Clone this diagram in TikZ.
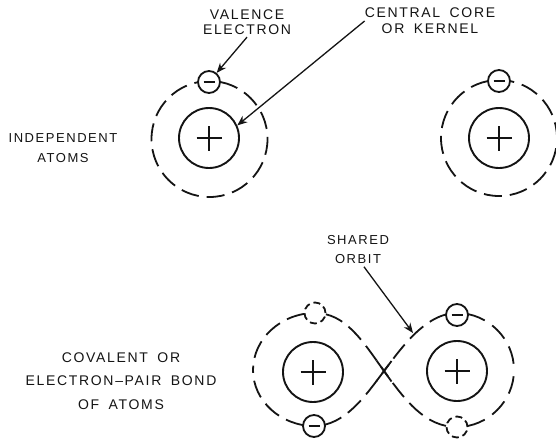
\documentclass[tikz,border=0pt]{standalone}
\usepackage{fontspec}
\newfontfamily\labfont[LetterSpace=12,WordSpace=1.7]{Liberation Sans}
\usetikzlibrary{arrows.meta}
\definecolor{ink}{gray}{0.08}
\tikzset{
  lab/.style 2 args={align=center,inner sep=0pt,text=ink,font=\labfont\fontsize{#1}{#2}\selectfont},
  orbit/.style={draw=ink,line width=1.8pt,dash pattern=on 18pt off 8pt,dash phase=15pt},
  orbitwide/.style={draw=ink,line width=1.8pt,dash pattern=on 18pt off 9pt,dash phase=16pt},
  crossing/.style={draw=ink,line width=1.8pt},
  nucleus/.style={circle,draw=ink,line width=1.9pt,minimum size=60pt,inner sep=0pt,
    path picture={\draw[ink,line width=1.7pt]
      ([xshift=-12.5pt]path picture bounding box.center)--([xshift=12.5pt]path picture bounding box.center)
      ([yshift=-12.5pt]path picture bounding box.center)--([yshift=12.5pt]path picture bounding box.center);}},
  electron/.style={circle,draw=ink,fill=white,line width=1.8pt,minimum size=22pt,inner sep=0pt,
    path picture={\draw[ink,line width=1.7pt]
      ([xshift=-5.5pt]path picture bounding box.center)--([xshift=5.5pt]path picture bounding box.center);}},
  vacant/.style={circle,draw=ink,fill=white,line width=1.8pt,dash pattern=on 7pt off 4pt,minimum size=21pt,inner sep=0pt},
  pointer/.style={draw=ink,line width=1.3pt,-{Stealth[length=10pt,width=8pt]}}
}
\begin{document}
\begin{tikzpicture}[x=1pt,y=-1pt]
\useasboundingbox (0,0) rectangle (556,439);
\fill[white] (0,0) rectangle (556,439);
% labels
\node[lab={14}{15}] (valence) at (247,22.5) {VALENCE\\ELECTRON};
\node[lab={14}{16}] (core) at (430,21) {CENTRAL CORE\\OR KERNEL};
\node[lab={13}{20.5}] (indep) at (63,148) {INDEPENDENT\\ATOMS};
\node[lab={13}{19}] (shared) at (358,249.5) {SHARED\\ORBIT};
\node[lab={14}{23.5}] (bond) at (121,381) {COVALENT OR\\ELECTRON–PAIR BOND\\OF ATOMS};
% independent atoms
\coordinate (ta) at (209.5,81);
\coordinate (tb) at (499,80);
\draw[orbit] (ta) arc[start angle=90,delta angle=-360,radius=58pt];
\draw[orbit] (tb) arc[start angle=90,delta angle=360,radius=58pt];
\node[nucleus] (n1) at (209,138) {};
\node[nucleus] (n2) at (499,138) {};
\node[electron] (e1) at (209,82) {};
\node[electron] (e2) at (499,81) {};
% shared orbit, each run starting at an electron
\coordinate (cross) at (384,371);
\coordinate (rt) at (457,313);
\coordinate (rb) at (457,427);
\coordinate (lt) at (315,313);
\coordinate (lb) at (314,426);
\coordinate (re) at (514,370);
\coordinate (le) at (253,370);
\draw[orbitwide] (rt) .. controls (488,313) and (514,339) .. (re);
\draw[orbitwide] (rb) .. controls (488,427) and (514,401) .. (re);
\draw[orbit] (rt) .. controls (425,313) and (400,350) .. (cross);
\draw[orbit] (rb) .. controls (425,427) and (405,400) .. (cross);
\draw[orbit] (lt) .. controls (345,313) and (362,340) .. (cross);
\draw[orbit] (lb) .. controls (345,426) and (366,395) .. (cross);
\draw[orbit] (lt) .. controls (281,313) and (253,339) .. (le);
\draw[orbit] (lb) .. controls (281,426) and (253,401) .. (le);
\draw[crossing] (cross) ++(-7.5,-10.5) -- ++(15,21);
\draw[crossing] (cross) ++(7.5,-10) -- ++(-15,20);
\node[nucleus] (n3) at (313,372) {};
\node[nucleus] (n4) at (457,371) {};
\node[vacant] (v1) at (315,313) {};
\node[electron] (e3) at (314,426) {};
\node[electron] (e4) at (457,315) {};
\node[vacant] (v2) at (457,427) {};
\coordinate (sharedpt) at (413,333);
% pointers
\draw[pointer] (valence.south) ++(0,2) -- (e1.50);
\draw[pointer] (core.west) -- (n1.24);
\draw[pointer] (shared.south) ++(6,3) -- (sharedpt);
\end{tikzpicture}
\end{document}
